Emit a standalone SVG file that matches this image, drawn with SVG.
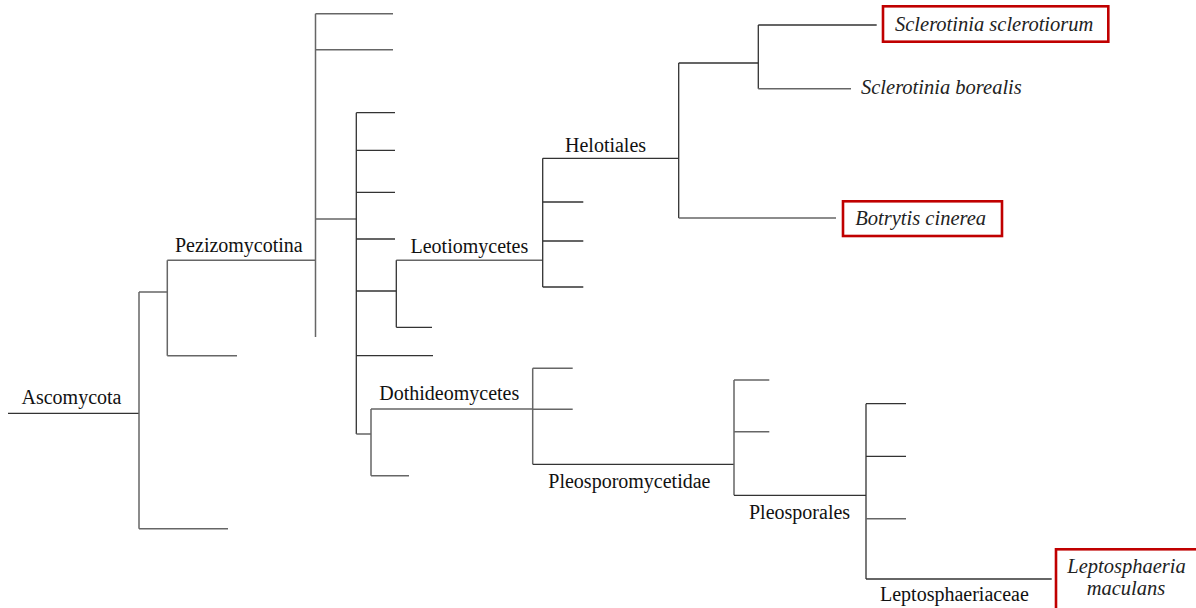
<svg xmlns="http://www.w3.org/2000/svg" width="1196" height="608" viewBox="0 0 1196 608">
<style>
.t{font-family:"Liberation Serif","Times New Roman",serif;font-size:20px;fill:#111}
.i{font-family:"Liberation Serif","Times New Roman",serif;font-size:20.5px;font-style:italic;fill:#222}
.box{fill:#fff;stroke:#c00000;stroke-width:2.6}
.ln{stroke:#333;stroke-width:1.3;fill:none}
.lg{stroke:#666;stroke-width:1.5;fill:none}
</style>
<rect width="1196" height="608" fill="#fff"/>
<g id="connectors">
<path class="ln" d="M8 413.3H139"/>
<path class="lg" d="M139 292V528.7M139 292H167.3M139 528.7H228"/>
<path class="lg" d="M167.3 260.3V355.7M167.3 260.3H315.5M167.3 355.7H237"/>
<path class="lg" d="M315.5 13.7V337M315.5 13.7H393M315.5 49.7H393M315.5 219H356.3"/>
<path class="ln" d="M356.3 112.7V434M356.3 112.7H395M356.3 150.3H395M356.3 192.3H395M356.3 239H395M356.3 291H396.3M356.3 355.7H433"/>
<path class="lg" d="M396.3 260.3H542.7"/>
<path class="ln" d="M396.3 260.3V327.3M396.3 327.3H432"/>
<path class="ln" d="M542.7 158.3V287M542.7 158.3H678.7M542.7 202H583.3M542.7 241H583.3M542.7 287H583.3"/>
<path class="ln" d="M678.7 63V218M678.7 63H758.3"/>
<path class="lg" d="M678.7 218H836"/>
<path class="ln" d="M758.3 25V88.7M758.3 25H876.7"/>
<path class="lg" d="M758.3 88.7H851"/>
<path class="lg" d="M356.3 434H371M371 409V475.7M371 475.7H409M371 409H532.7"/>
<path class="lg" d="M532.7 368.3V464.3M532.7 368.3H572.7M532.7 409.3H572.7"/>
<path class="ln" d="M532.7 464.3H734"/>
<path class="lg" d="M734 380V495.3M734 380H769.3M734 431.7H769.3"/>
<path class="ln" d="M734 495.3H866"/>
<path class="ln" d="M866 403.7V579M866 403.7H906M866 456.3H906"/>
<path class="lg" d="M866 518.7H906"/>
<path class="ln" d="M866 579H1051.7"/>
</g>
<g id="n-ascomycota"><text class="t" x="21.5" y="404">Ascomycota</text></g>
<g id="n-pezizomycotina"><text class="t" x="175" y="251.5">Pezizomycotina</text></g>
<g id="n-leotiomycetes"><text class="t" x="410.5" y="252.5">Leotiomycetes</text></g>
<g id="n-helotiales"><text class="t" x="565" y="152.3">Helotiales</text></g>
<g id="n-dothideomycetes"><text class="t" x="379.3" y="400">Dothideomycetes</text></g>
<g id="n-pleosporomycetidae"><text class="t" x="548.3" y="487.7">Pleosporomycetidae</text></g>
<g id="n-pleosporales"><text class="t" x="749" y="519">Pleosporales</text></g>
<g id="n-leptosphaeriaceae"><text class="t" x="880" y="600.7">Leptosphaeriaceae</text></g>
<g id="n-sclerotiorum">
<rect class="box" x="883" y="6.3" width="225.3" height="35.4"/>
<text class="i" x="895" y="30.7">Sclerotinia sclerotiorum</text>
</g>
<g id="n-borealis"><text class="i" x="861" y="94.3">Sclerotinia borealis</text></g>
<g id="n-botrytis">
<rect class="box" x="843" y="201.3" width="159" height="34.7"/>
<text class="i" x="855.3" y="225.3">Botrytis cinerea</text>
</g>
<g id="n-leptosphaeria">
<rect class="box" x="1056" y="549.3" width="150" height="70"/>
<text class="i" x="1126.5" y="573.3" text-anchor="middle">Leptosphaeria</text>
<text class="i" x="1126" y="595" text-anchor="middle">maculans</text>
</g>
</svg>
